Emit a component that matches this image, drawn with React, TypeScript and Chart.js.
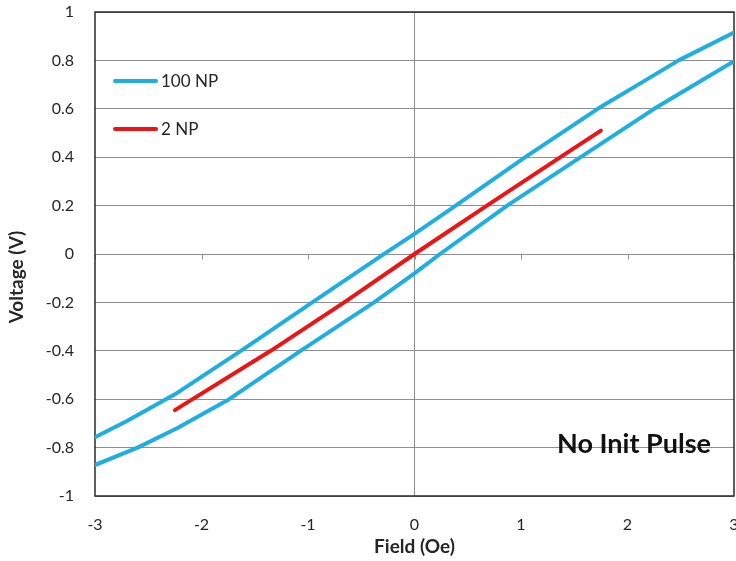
import React, { useEffect, useRef } from "react";
import { Chart, registerables } from "chart.js";

Chart.register(...registerables);

// ---- Data ----
const upperX = [-3, -2.7, -2.25, -1.63, -0.96, -0.32, 0, 0.37, 1.04, 1.72, 2.1, 2.48, 3];
const upperY = [-0.757, -0.69, -0.58, -0.4, -0.2, -0.01, 0.083, 0.195, 0.4, 0.6, 0.7, 0.8, 0.915];

const lowerX = [-3, -2.6, -2.23, -1.74, -1.07, -0.38, 0, 0.24, 0.87, 1.56, 2.25, 3];
const lowerY = [-0.872, -0.8, -0.72, -0.6, -0.4, -0.2, -0.08, 0, 0.2, 0.4, 0.6, 0.797];

const redX = [-2.25, -1.35, -0.66, 0, 0.68, 1.37, 1.75];
const redY = [-0.645, -0.4, -0.2, 0, 0.2, 0.4, 0.51];

const xTickValues = [-3, -2, -1, 0, 1, 2, 3];
const xTickLabels = ["-3", "-2", "-1", "0", "1", "2", "3"];
const yTickValues = [-1, -0.8, -0.6, -0.4, -0.2, 0, 0.2, 0.4, 0.6, 0.8, 1];
const yTickLabels = ["-1", "-0.8", "-0.6", "-0.4", "-0.2", "0", "0.2", "0.4", "0.6", "0.8", "1"];

const seriesNames = ["100 NP", "2 NP"];
const annotationText = "No Init Pulse";
const xTitle = "Field (Oe)";
const yTitle = "Voltage (V)";

const BLUE = "#1eaee0";
const RED = "#ec1414";
const GRID = "#8e8e8e";
const BORDER = "#2a2a2a";
const TEXT = "#262626";
const FONT = "Lato, 'Open Sans', sans-serif";

const zip = (xs: number[], ys: number[]) => xs.map((x, i) => ({ x, y: ys[i] }));

const decorPlugin = {
  id: "decor",
  beforeDatasetsDraw(chart: any) {
    const { ctx, chartArea: a, scales } = chart;
    const xs = scales.x;
    const ys = scales.y;
    ctx.save();
    // zero-axis tick marks
    ctx.strokeStyle = GRID;
    ctx.lineWidth = 1;
    const y0 = Math.round(ys.getPixelForValue(0)) + 0.5;
    xTickValues.forEach((v) => {
      const px = Math.round(xs.getPixelForValue(v)) + 0.5;
      ctx.beginPath();
      ctx.moveTo(px, y0);
      ctx.lineTo(px, y0 + 5);
      ctx.stroke();
    });
    // plot border
    ctx.strokeStyle = BORDER;
    ctx.lineWidth = 1.5;
    ctx.strokeRect(a.left, a.top, a.right - a.left, a.bottom - a.top);
    ctx.restore();
  },
  afterDraw(chart: any) {
    const { ctx, chartArea: a } = chart;
    ctx.save();
    // legend
    const items = [
      { name: seriesNames[0], color: BLUE, dy: 69 },
      { name: seriesNames[1], color: RED, dy: 117 },
    ];
    items.forEach((it) => {
      const y = a.top + it.dy;
      ctx.strokeStyle = it.color;
      ctx.lineWidth = 4;
      ctx.lineCap = "round";
      ctx.beginPath();
      ctx.moveTo(a.left + 20, y);
      ctx.lineTo(a.left + 61, y);
      ctx.stroke();
      ctx.fillStyle = TEXT;
      ctx.font = `17px ${FONT}`;
      ctx.textAlign = "left";
      ctx.textBaseline = "middle";
      ctx.fillText(it.name, a.left + 66, y + 1);
    });
    // annotation
    ctx.fillStyle = "#111";
    ctx.font = `bold 27px ${FONT}`;
    ctx.textAlign = "center";
    ctx.textBaseline = "alphabetic";
    ctx.fillText(annotationText, a.right - 100, a.bottom - 43);
    // y title
    ctx.translate(17, (a.top + a.bottom) / 2 + 23);
    ctx.rotate(-Math.PI / 2);
    ctx.font = `bold 19px ${FONT}`;
    ctx.textAlign = "center";
    ctx.textBaseline = "middle";
    ctx.fillStyle = TEXT;
    ctx.fillText(yTitle, 0, 0);
    ctx.restore();
  },
};

export default function App() {
  const ref = useRef<HTMLCanvasElement | null>(null);

  useEffect(() => {
    if (!ref.current) return;
    const lineStyle = {
      borderWidth: 4,
      pointRadius: 0,
      tension: 0,
      borderCapStyle: "round",
      borderJoinStyle: "round",
    };
    const chart = new Chart(ref.current, {
      type: "line",
      data: {
        datasets: [
          { label: seriesNames[0], data: zip(lowerX, lowerY), borderColor: BLUE, ...lineStyle },
          { label: seriesNames[0] + " (return)", data: zip(upperX, upperY), borderColor: BLUE, ...lineStyle },
          { label: seriesNames[1], data: zip(redX, redY), borderColor: RED, ...lineStyle },
        ],
      },
      options: {
        animation: false,
        responsive: false,
        maintainAspectRatio: false,
        layout: { padding: { top: 12, right: 2, left: 0, bottom: 0 } },
        plugins: { legend: { display: false }, tooltip: { enabled: false } },
        scales: {
          x: {
            type: "linear",
            min: -3,
            max: 3,
            afterBuildTicks: (s: any) => {
              s.ticks = xTickValues.map((v) => ({ value: v }));
            },
            afterFit: (s: any) => {
              s.height = 65;
              s.paddingLeft = 0;
              s.paddingRight = 0;
            },
            grid: {
              drawTicks: false,
              color: (c: any) => (c.tick && c.tick.value === 0 ? GRID : "rgba(0,0,0,0)"),
              lineWidth: 1,
            },
            border: { display: false },
            ticks: {
              padding: 19,
              color: TEXT,
              font: { family: FONT, size: 16 },
              maxRotation: 0,
              callback: (v: any) => {
                const i = xTickValues.findIndex((t) => Math.abs(t - v) < 1e-9);
                return i >= 0 ? xTickLabels[i] : "";
              },
            },
            title: {
              display: true,
              text: xTitle,
              color: TEXT,
              font: { family: FONT, size: 19, weight: "bold" },
              padding: { top: 0, bottom: 3 },
            },
          },
          y: {
            type: "linear",
            min: -1,
            max: 1,
            afterBuildTicks: (s: any) => {
              s.ticks = yTickValues.map((v) => ({ value: v }));
            },
            afterFit: (s: any) => {
              s.width = 95;
              s.paddingTop = 0;
              s.paddingBottom = 0;
            },
            grid: { drawTicks: false, color: GRID, lineWidth: 1 },
            border: { display: false },
            ticks: {
              padding: 21,
              color: TEXT,
              font: { family: FONT, size: 16 },
              callback: (v: any) => {
                const i = yTickValues.findIndex((t) => Math.abs(t - v) < 1e-9);
                return i >= 0 ? yTickLabels[i] : "";
              },
            },
          },
        },
      },
      plugins: [decorPlugin],
    } as any);
    return () => chart.destroy();
  }, []);

  return (
    <div style={{ position: "fixed", left: 0, top: 0, width: 736, height: 561, background: "#fff" }}>
      <canvas ref={ref} width={736} height={561} style={{ width: 736, height: 561 }} />
    </div>
  );
}
